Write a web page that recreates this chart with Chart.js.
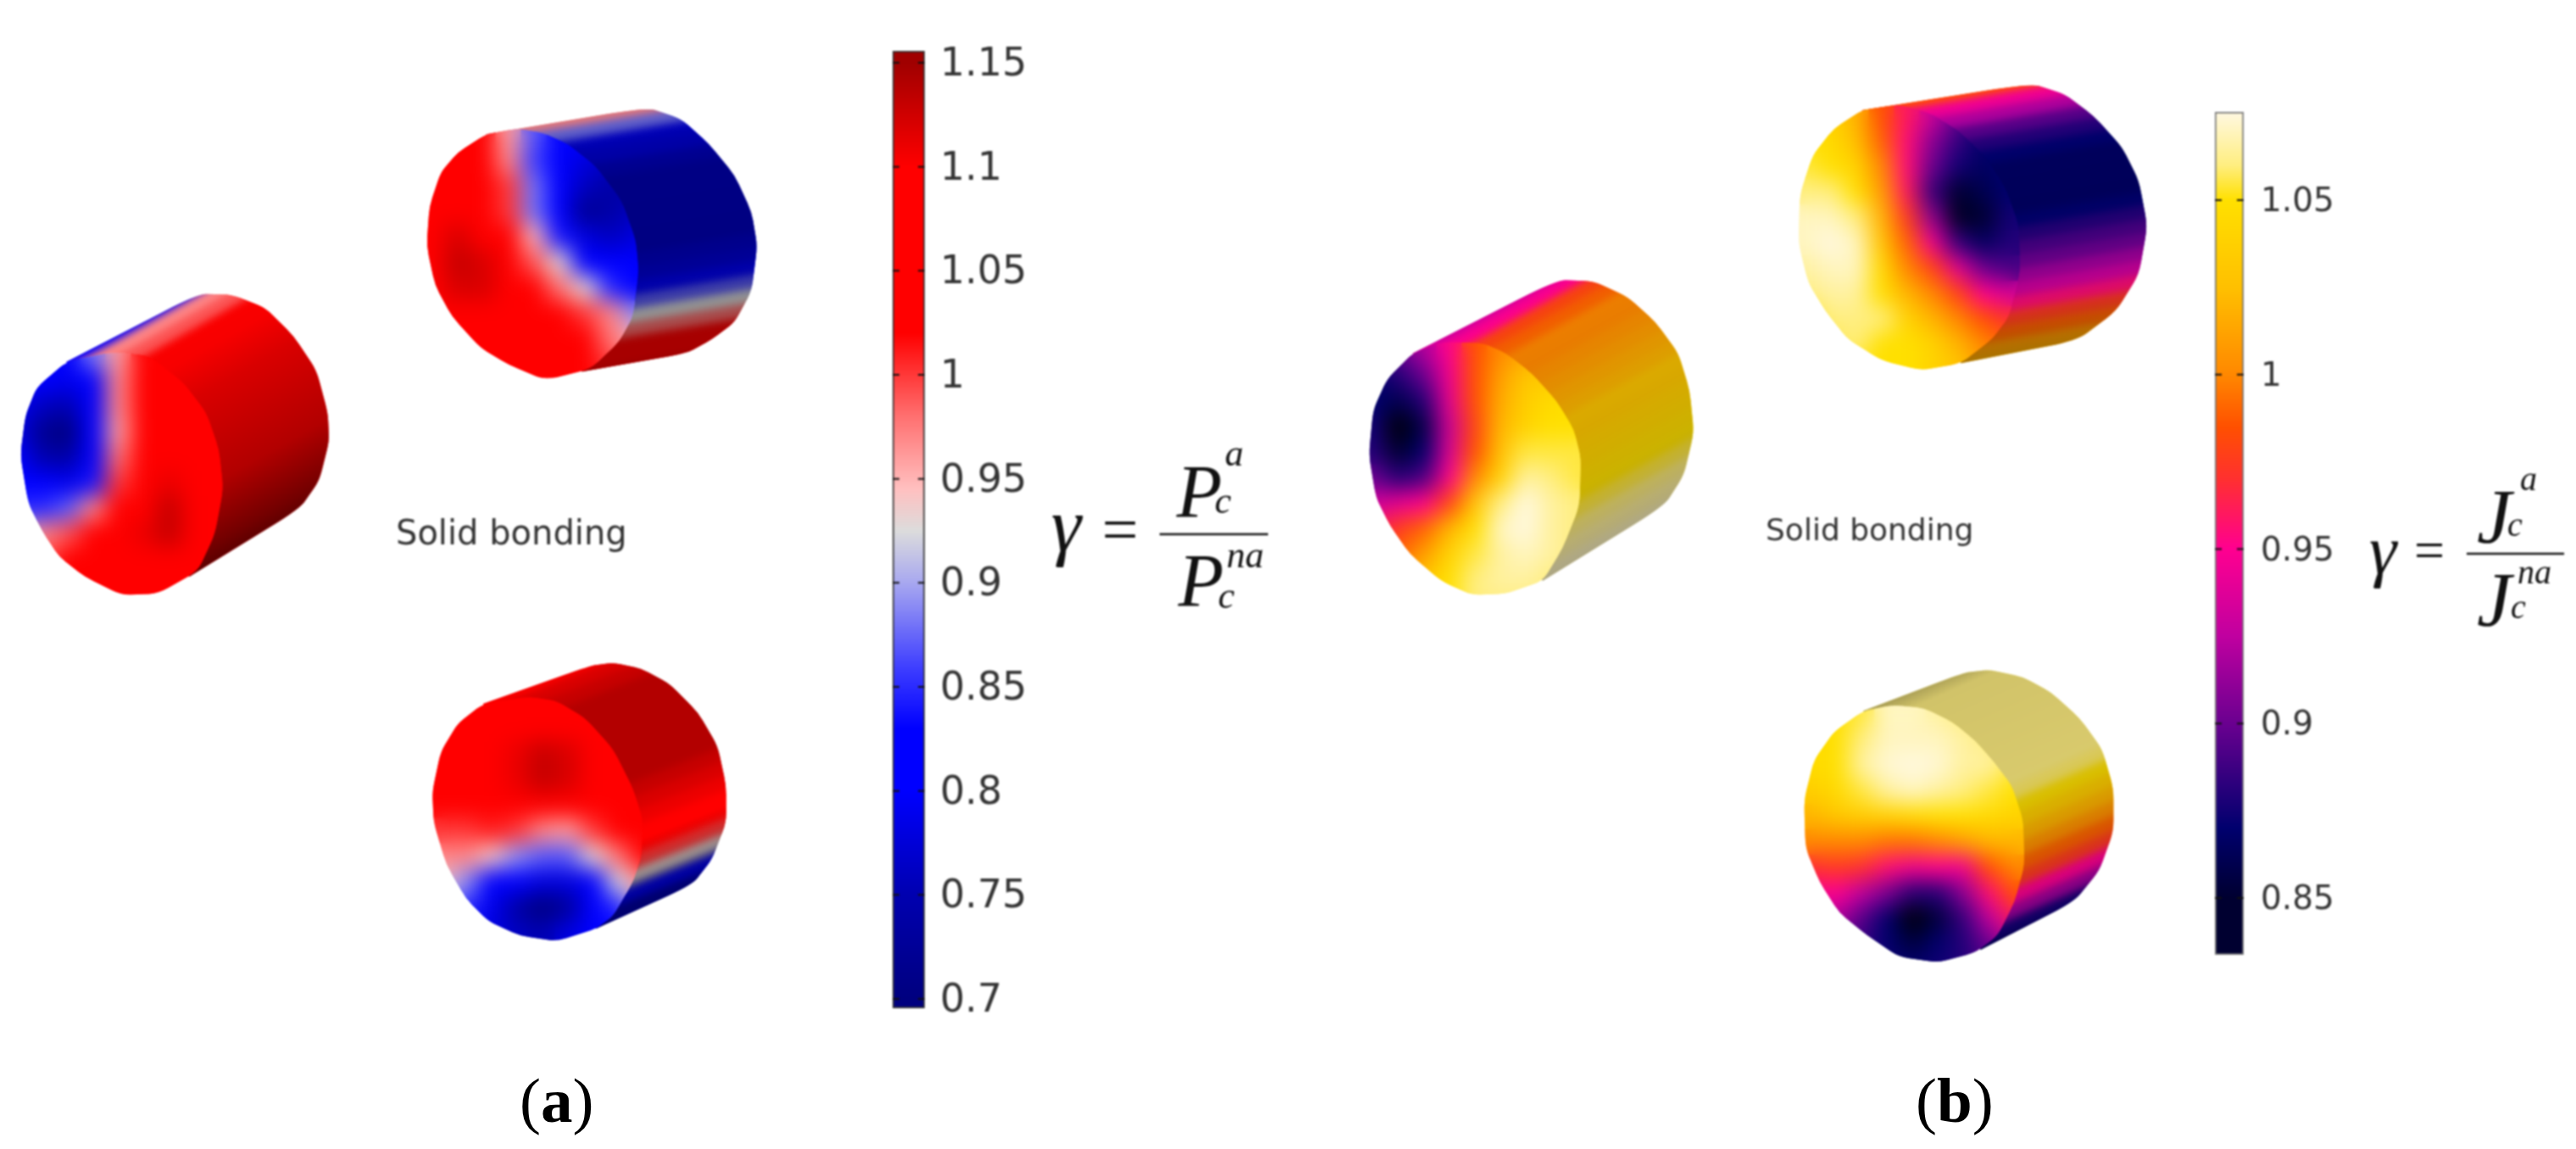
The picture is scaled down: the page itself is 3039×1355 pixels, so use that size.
<!DOCTYPE html>
<html>
<head>
<meta charset="utf-8">
<title>Solid bonding</title>
<script src="https://cdn.jsdelivr.net/npm/chart.js@4/dist/chart.umd.js"></script>
<style>
    html, body { margin: 0; padding: 0; background: #fff; }
    body { width: 3039px; height: 1355px; position: relative; overflow: hidden; }
    canvas { position: absolute; filter: blur(0.9px); }
    .tag { position: absolute; top: 1255px; font: 75px/1.149 'Liberation Serif'; color: #000; }
    .tag b { font-weight: bold; }
</style>
</head>
<body>
<canvas id="stage" width="3039" height="1355" style="left:0;top:0"></canvas>
<canvas id="barA" style="left:1051px;top:30px"></canvas>
<canvas id="barB" style="left:2611px;top:102px"></canvas>
<div class="tag" style="left:613px">(<b>a</b>)</div>
<div class="tag" style="left:2260px">(<b>b</b>)</div>
<script>
// colour scales (gamma value -> colour)
const stopsA = [0.69, 0.7, 0.75, 0.8, 0.83, 0.86, 0.9, 0.925, 0.945, 0.98, 1.02, 1.1, 1.15, 1.2];
const coloursA = ['#000070', '#00007f', '#0000b0', '#0000ff', '#0000ff', '#4040ff', '#a8a8f0', '#dcdcdc', '#ffc0c0', '#ff7070', '#ff0000', '#ff0000', '#a00000', '#700000'];
const stopsB = [0.833, 0.85, 0.87, 0.9, 0.925, 0.95, 0.97, 0.985, 1.0, 1.025, 1.05, 1.06, 1.075];
const coloursB = ['#000000', '#000030', '#00006e', '#6a0090', '#c000a0', '#ff0090', '#ff3030', '#ff5000', '#ff8800', '#ffc000', '#ffe000', '#ffee80', '#fff8e0'];

// colour bars
const ticksA = [0.7, 0.75, 0.8, 0.85, 0.9, 0.95, 1, 1.05, 1.1, 1.15];
const tickLabelsA = ['0.7', '0.75', '0.8', '0.85', '0.9', '0.95', '1', '1.05', '1.1', '1.15'];
const ticksB = [0.85, 0.9, 0.95, 1, 1.05];
const tickLabelsB = ['0.85', '0.9', '0.95', '1', '1.05'];
const rangeA = [0.6955, 1.1557];
const rangeB = [0.8337, 1.0753];

// front face samples, one row per line, top to bottom
const faceA1 = [
    [0.8, 0.8, 0.8, 0.88, 0.96, 1.02, 1.04, 1.05, 1.05],
    [0.8, 0.8, 0.79, 0.83, 0.97, 1.02, 1.05, 1.05, 1.05],
    [0.79, 0.76, 0.75, 0.82, 0.97, 1.03, 1.05, 1.05, 1.05],
    [0.78, 0.72, 0.7, 0.8, 0.96, 1.03, 1.05, 1.05, 1.05],
    [0.8, 0.75, 0.74, 0.8, 0.98, 1.04, 1.05, 1.05, 1.05],
    [0.82, 0.8, 0.79, 0.84, 1.0, 1.06, 1.11, 1.08, 1.05],
    [0.85, 0.85, 0.87, 0.97, 1.04, 1.1, 1.13, 1.09, 1.05],
    [0.92, 0.97, 0.99, 1.03, 1.06, 1.11, 1.13, 1.08, 1.05],
    [0.98, 0.99, 1.02, 1.05, 1.05, 1.08, 1.09, 1.05, 1.05],
    [1.05, 1.05, 1.05, 1.05, 1.05, 1.05, 1.05, 1.05, 1.05]
];
const faceA2 = [
    [1.05, 1.05, 1.03, 0.96, 0.87, 0.83, 0.81, 0.81, 0.81],
    [1.05, 1.05, 1.04, 0.97, 0.86, 0.81, 0.78, 0.76, 0.76],
    [1.05, 1.05, 1.05, 1.0, 0.88, 0.8, 0.76, 0.74, 0.74],
    [1.07, 1.09, 1.07, 1.0, 0.88, 0.8, 0.72, 0.74, 0.76],
    [1.09, 1.12, 1.1, 1.05, 0.95, 0.84, 0.78, 0.76, 0.78],
    [1.09, 1.13, 1.12, 1.06, 0.99, 0.93, 0.83, 0.8, 0.8],
    [1.07, 1.12, 1.12, 1.06, 1.03, 0.98, 0.93, 0.85, 0.83],
    [1.05, 1.07, 1.07, 1.05, 1.05, 1.02, 1.0, 0.97, 0.89],
    [1.05, 1.05, 1.05, 1.05, 1.05, 1.05, 1.02, 0.98, 0.95],
    [1.05, 1.05, 1.05, 1.05, 1.05, 1.05, 1.04, 1.0, 0.98]
];
const faceA3 = [
    [1.05, 1.05, 1.05, 1.05, 1.05, 1.05, 1.05, 1.05, 1.05],
    [1.05, 1.05, 1.06, 1.07, 1.07, 1.07, 1.06, 1.05, 1.05],
    [1.05, 1.06, 1.08, 1.11, 1.13, 1.12, 1.09, 1.06, 1.05],
    [1.05, 1.05, 1.07, 1.11, 1.13, 1.12, 1.08, 1.05, 1.05],
    [1.04, 1.05, 1.05, 1.05, 1.06, 1.05, 1.05, 1.05, 1.05],
    [1.0, 1.0, 1.01, 1.0, 0.97, 0.96, 1.0, 1.03, 1.04],
    [0.97, 0.97, 0.94, 0.89, 0.87, 0.87, 0.93, 0.98, 1.02],
    [0.94, 0.89, 0.83, 0.8, 0.78, 0.78, 0.81, 0.92, 0.97],
    [0.9, 0.85, 0.79, 0.74, 0.7, 0.73, 0.8, 0.85, 0.92],
    [0.84, 0.8, 0.78, 0.76, 0.75, 0.78, 0.8, 0.8, 0.8]
];
const faceB1 = [
    [0.9, 0.9, 0.92, 0.95, 0.985, 1.0, 1.01, 1.01, 1.01],
    [0.87, 0.88, 0.9, 0.945, 0.985, 1.01, 1.03, 1.03, 1.03],
    [0.87, 0.86, 0.88, 0.94, 0.985, 1.015, 1.035, 1.045, 1.05],
    [0.875, 0.835, 0.86, 0.93, 0.98, 1.02, 1.04, 1.05, 1.05],
    [0.88, 0.85, 0.87, 0.935, 0.985, 1.025, 1.055, 1.055, 1.055],
    [0.9, 0.88, 0.89, 0.95, 1.0, 1.04, 1.065, 1.06, 1.055],
    [0.93, 0.94, 0.95, 0.98, 1.03, 1.06, 1.075, 1.065, 1.06],
    [0.96, 0.975, 0.99, 1.02, 1.05, 1.07, 1.075, 1.065, 1.06],
    [0.98, 0.99, 1.01, 1.04, 1.055, 1.065, 1.07, 1.065, 1.06],
    [1.0, 1.01, 1.03, 1.05, 1.06, 1.065, 1.065, 1.06, 1.06],
    [1.02, 1.03, 1.045, 1.05, 1.06, 1.06, 1.06, 1.06, 1.06]
];
const faceB2 = [
    [1.04, 1.04, 1.02, 0.985, 0.96, 0.93, 0.9, 0.88, 0.87],
    [1.05, 1.045, 1.025, 0.99, 0.955, 0.91, 0.885, 0.87, 0.87],
    [1.055, 1.05, 1.04, 1.0, 0.955, 0.9, 0.875, 0.865, 0.87],
    [1.06, 1.06, 1.05, 1.01, 0.96, 0.885, 0.85, 0.86, 0.87],
    [1.07, 1.07, 1.06, 1.02, 0.975, 0.91, 0.845, 0.85, 0.875],
    [1.07, 1.075, 1.07, 1.03, 0.99, 0.945, 0.885, 0.865, 0.88],
    [1.065, 1.07, 1.07, 1.045, 1.0, 0.98, 0.94, 0.9, 0.89],
    [1.06, 1.065, 1.065, 1.05, 1.02, 1.0, 0.98, 0.95, 0.935],
    [1.05, 1.06, 1.06, 1.06, 1.04, 1.02, 1.0, 0.985, 0.97],
    [1.05, 1.055, 1.06, 1.05, 1.05, 1.04, 1.02, 1.0, 0.99],
    [1.05, 1.05, 1.05, 1.05, 1.05, 1.04, 1.03, 1.01, 1.0]
];
const faceB3 = [
    [1.04, 1.05, 1.055, 1.07, 1.07, 1.065, 1.06, 1.06, 1.06],
    [1.045, 1.05, 1.06, 1.07, 1.07, 1.07, 1.065, 1.06, 1.06],
    [1.045, 1.05, 1.065, 1.073, 1.075, 1.073, 1.065, 1.065, 1.055],
    [1.035, 1.045, 1.055, 1.065, 1.07, 1.065, 1.06, 1.055, 1.05],
    [1.02, 1.03, 1.035, 1.04, 1.045, 1.05, 1.05, 1.045, 1.04],
    [1.0, 1.0, 1.0, 0.995, 0.995, 1.0, 1.01, 1.02, 1.02],
    [0.97, 0.975, 0.97, 0.955, 0.945, 0.95, 0.945, 0.985, 1.0],
    [0.945, 0.95, 0.925, 0.905, 0.88, 0.88, 0.91, 0.955, 0.985],
    [0.92, 0.92, 0.895, 0.87, 0.835, 0.855, 0.885, 0.925, 0.96],
    [0.9, 0.9, 0.885, 0.87, 0.855, 0.87, 0.88, 0.9, 0.92],
    [0.88, 0.88, 0.88, 0.875, 0.87, 0.875, 0.88, 0.89, 0.9]
];

// values on the barrel, read across it from the upper edge to the lower edge
const sideA1 = [0.8, 0.97, 0.99, 1.03, 1.05, 1.05, 1.05, 1.05, 1.05, 1.05, 1.05, 1.05, 1.05, 1.05, 1.05, 1.05, 1.05, 1.05, 1.05, 1.05];
const sideA2 = [0.97, 0.88, 0.82, 0.79, 0.77, 0.76, 0.76, 0.76, 0.76, 0.76, 0.76, 0.77, 0.78, 0.82, 0.87, 0.925, 0.98, 1.05, 1.1, 1.12];
const sideA3 = [1.08, 1.12, 1.13, 1.14, 1.14, 1.14, 1.14, 1.14, 1.14, 1.14, 1.13, 1.12, 1.11, 1.09, 1.05, 1.0, 0.93, 0.82, 0.73, 0.72];
const sideB1 = [0.93, 0.95, 0.98, 0.99, 1.0, 1.0, 1.005, 1.01, 1.015, 1.02, 1.03, 1.03, 1.035, 1.04, 1.045, 1.05, 1.055, 1.06, 1.065, 1.07];
const sideB2 = [0.985, 0.945, 0.92, 0.895, 0.88, 0.87, 0.865, 0.865, 0.865, 0.865, 0.87, 0.88, 0.89, 0.9, 0.915, 0.93, 0.955, 0.975, 0.99, 1.01, 1.02];
const sideB3 = [1.06, 1.06, 1.06, 1.06, 1.06, 1.06, 1.06, 1.06, 1.06, 1.06, 1.058, 1.05, 1.035, 1.02, 1.005, 0.99, 0.975, 0.95, 0.915, 0.875, 0.86];

// outlines, in crop units (1/3 px) relative to each cylinder's origin
const outlineA1 = [[235,290],[400,255],[530,270],[650,365],[730,470],[775,600],[790,740],[760,900],[700,1030],[560,1110],[430,1115],[300,1050],[210,980],[150,890],[100,790],[72,620],[90,480],[130,380]];
const barrelA1 = [[235,290],[700,50],[820,52],[940,100],[1040,200],[1120,320],[1160,470],[1165,570],[1130,710],[1060,810],[670,1050],[430,685]];
const outlineA2 = [[250,145],[360,125],[450,140],[540,180],[640,260],[730,380],[780,520],[790,630],[770,790],[720,880],[620,975],[460,1015],[330,960],[230,900],[130,790],[70,680],[40,540],[50,400],[90,280],[150,210]];
const barrelA2 = [[250,145],[820,50],[940,90],[1040,180],[1130,290],[1190,420],[1210,540],[1190,700],[1130,810],[1050,870],[960,920],[590,985],[420,570]];
const outlineA3 = [[240,180],[400,155],[500,170],[600,230],[700,340],[770,480],[805,590],[800,720],[770,810],[700,930],[640,975],[500,1020],[370,1000],[260,950],[180,870],[110,750],[65,600],[60,490],[90,350],[150,250]];
const barrelA3 = [[240,180],[620,45],[700,35],[800,55],[900,110],[1000,210],[1070,330],[1100,470],[1100,600],[1050,730],[980,820],[640,975],[430,590]];
const outlineB1 = [[230,320],[340,280],[480,285],[560,320],[650,390],[740,490],[800,590],[825,690],[820,860],[760,1010],[690,1125],[560,1170],[440,1175],[330,1125],[220,1030],[150,930],[100,830],[75,680],[90,520],[140,410]];
const barrelB1 = [[230,320],[740,60],[870,65],[990,120],[1090,210],[1170,320],[1210,450],[1225,600],[1190,750],[1120,860],[690,1125],[440,720]];
const outlineB2 = [[290,150],[420,130],[540,165],[640,230],[730,320],[800,430],[845,560],[850,720],[810,880],[750,960],[640,1045],[500,1070],[360,1035],[240,960],[160,860],[100,760],[65,620],[70,450],[115,310],[190,215]];
const barrelB2 = [[290,150],[890,55],[1010,95],[1110,170],[1210,280],[1270,400],[1300,560],[1270,730],[1190,860],[1050,965],[640,1045],[460,600]];
const outlineB3 = [[295,205],[400,185],[510,195],[610,245],[690,310],[760,390],[820,470],[860,590],[865,750],[830,880],[770,1000],[690,1060],[560,1095],[420,1075],[310,1000],[210,920],[140,810],[90,690],[85,520],[120,380],[190,280]];
const barrelB3 = [[295,205],[650,70],[740,60],[860,85],[960,140],[1060,230],[1140,340],[1180,480],[1180,630],[1130,770],[1040,880],[710,1050],[470,650]];

const cylinders = [
    { origin: [0, 330], face: faceA1, side: sideA1, outline: outlineA1, barrel: barrelA1, grid: [60, 270], axis: [0.87, -0.49],
      shade: [[0, 0], [200, 0.03], [335, 0.15], [631, 0.3], [819, 0.55], [900, 0.68]], stops: stopsA, colours: coloursA },
    { origin: [490, 110], face: faceA2, side: sideA2, outline: outlineA2, barrel: barrelA2, grid: [60, 150], axis: [0.986, -0.164],
      shade: [[0, 0.1], [100, 0.3], [900, 0.35]], stops: stopsA, colours: coloursA },
    { origin: [490, 770], face: faceA3, side: sideA3, outline: outlineA3, barrel: barrelA3, grid: [90, 180], axis: [0.93, -0.37],
      shade: [[0, 0], [650, 0], [784, 0.4], [900, 0.25]], stops: stopsA, colours: coloursA },
    { origin: [1590, 310], face: faceB1, side: sideB1, outline: outlineB1, barrel: barrelB1, grid: [90, 310], axis: [0.875, -0.485],
      shade: [[0, 0], [200, 0.08], [500, 0.15], [700, 0.2], [850, 0.28], [930, 0.33]], stops: stopsB, colours: coloursB },
    { origin: [2100, 80], face: faceB2, side: sideB2, outline: outlineB2, barrel: barrelB2, grid: [90, 170], axis: [0.985, -0.17],
      shade: [[0, 0], [700, 0.1], [800, 0.15], [950, 0.35]], stops: stopsB, colours: coloursB },
    { origin: [2100, 770], face: faceB3, side: sideB3, outline: outlineB3, barrel: barrelB3, grid: [110, 220], axis: [0.915, -0.4],
      shade: [[0, 0.35], [60, 0.18], [480, 0.15], [940, 0.15]], stops: stopsB, colours: coloursB }
];

// text that sits on the stage
const notes = [
    { text: 'Solid bonding', x: 467, y: 642, font: '40px "DejaVu Sans"', colour: '#333' },
    { text: 'Solid bonding', x: 2083, y: 637, font: '36px "DejaVu Sans"', colour: '#333' },
    { text: 'γ', x: 1240, y: 650, font: 'italic 90px "Liberation Serif"' },
    { text: '=', x: 1300, y: 650, font: '76px "Liberation Serif"' },
    { text: 'P', x: 1388, y: 609, font: 'italic 88px "Liberation Serif"' },
    { text: 'c', x: 1433, y: 605, font: 'italic 44px "Liberation Serif"' },
    { text: 'a', x: 1445, y: 549, font: 'italic 44px "Liberation Serif"' },
    { text: 'P', x: 1390, y: 714, font: 'italic 88px "Liberation Serif"' },
    { text: 'c', x: 1437, y: 717, font: 'italic 44px "Liberation Serif"' },
    { text: 'na', x: 1447, y: 669, font: 'italic 44px "Liberation Serif"' },
    { text: 'γ', x: 2795, y: 676, font: 'italic 82px "Liberation Serif"' },
    { text: '=', x: 2848, y: 670, font: '64px "Liberation Serif"' },
    { text: 'J', x: 2922, y: 640, font: 'italic 92px "Liberation Serif"' },
    { text: 'c', x: 2958, y: 632, font: 'italic 40px "Liberation Serif"' },
    { text: 'a', x: 2973, y: 578, font: 'italic 40px "Liberation Serif"' },
    { text: 'J', x: 2922, y: 738, font: 'italic 92px "Liberation Serif"' },
    { text: 'c', x: 2962, y: 729, font: 'italic 40px "Liberation Serif"' },
    { text: 'na', x: 2970, y: 688, font: 'italic 40px "Liberation Serif"' }
];
const fractionBars = [[1368, 1496, 630], [2910, 3025, 653]];

function colourFor(v, stops, colours) {
    let i = 0;
    if (v <= stops[0]) return colours[0];
    while (i < stops.length - 1 && v > stops[i + 1]) i++;
    if (i >= stops.length - 1) return colours[colours.length - 1];
    const f = (v - stops[i]) / (stops[i + 1] - stops[i]);
    const a = parseInt(colours[i].slice(1), 16);
    const b = parseInt(colours[i + 1].slice(1), 16);
    const mix = s => Math.round(((a >> s) & 255) + (((b >> s) & 255) - ((a >> s) & 255)) * f);
    return `rgb(${mix(16)},${mix(8)},${mix(0)})`;
}

const UNIT = 3, CELL = 90, STRIPE = 48, CUT = 0.25;
const datasets = [];

cylinders.forEach(c => {
    const toPage = (x, y) => ({ x: c.origin[0] + x / UNIT, y: c.origin[1] + y / UNIT });
    const start = c.barrel[0];
    const perp = [-c.axis[1], c.axis[0]];
    c.sideSets = c.side.map((v, i) => {
        const t = i * STRIPE;
        const ends = [-100, 1000].map(a => toPage(start[0] + t * perp[0] + a * c.axis[0], start[1] + t * perp[1] + a * c.axis[1]));
        datasets.push({
            type: 'line', data: ends, borderColor: colourFor(v, c.stops, c.colours),
            borderWidth: STRIPE / UNIT + 1.5, borderCapStyle: 'butt', pointRadius: 0, fill: false, tension: 0, clip: false
        });
        return datasets.length - 1;
    });
    const cells = [], fills = [];
    c.face.forEach((row, j) => row.forEach((v, i) => {
        cells.push(toPage(c.grid[0] + i * CELL, c.grid[1] + j * CELL));
        fills.push(colourFor(v, c.stops, c.colours));
    }));
    datasets.push({
        type: 'scatter', data: cells, pointStyle: 'rect', pointRadius: (CELL / UNIT + 1) * Math.SQRT1_2,
        pointBackgroundColor: fills, pointBorderWidth: 0, clip: false
    });
    c.faceSet = datasets.length - 1;
});

const layer = document.createElement('canvas');
layer.width = 3039;
layer.height = 1355;
const off = layer.getContext('2d');

// outline with its corners eased; sharp keeps the listed vertices as hard corners
function tracePath(ctx, c, pts, sx, sy, sharp) {
    const px = pts.map(p => [sx.getPixelForValue(c.origin[0] + p[0] / UNIT), sy.getPixelForValue(c.origin[1] + p[1] / UNIT)]);
    const n = px.length;
    const along = (a, b) => [a[0] + (b[0] - a[0]) * CUT, a[1] + (b[1] - a[1]) * CUT];
    ctx.beginPath();
    px.forEach((p, i) => {
        if (sharp.includes(i)) {
            if (i) ctx.lineTo(p[0], p[1]); else ctx.moveTo(p[0], p[1]);
            return;
        }
        const a = along(p, px[(i + n - 1) % n]), b = along(p, px[(i + 1) % n]);
        if (i) ctx.lineTo(a[0], a[1]); else ctx.moveTo(a[0], a[1]);
        ctx.quadraticCurveTo(p[0], p[1], b[0], b[1]);
    });
    ctx.closePath();
}

function paintLayer(ctx, blur) {
    ctx.drawImage(layer, 0, 0);
    ctx.filter = `blur(${blur}px)`;
    ctx.drawImage(layer, 0, 0);
    ctx.filter = 'none';
}

const cylinderPlugin = {
    id: 'cylinders',
    beforeDatasetsDraw(chart) {
        const ctx = chart.ctx, area = chart.chartArea, sx = chart.scales.x, sy = chart.scales.y;
        cylinders.forEach(c => {
            off.clearRect(0, 0, layer.width, layer.height);
            c.sideSets.forEach(i => chart.getDatasetMeta(i).dataset.draw(off, area));
            ctx.save();
            const last = c.barrel.length - 1;
            tracePath(ctx, c, c.barrel, sx, sy, [0, last - 1, last]);
            ctx.clip();
            paintLayer(ctx, 5);
            const perp = [-c.axis[1], c.axis[0]], s = c.barrel[0];
            const T = c.shade[c.shade.length - 1][0];
            const g = ctx.createLinearGradient(
                sx.getPixelForValue(c.origin[0] + s[0] / UNIT), sy.getPixelForValue(c.origin[1] + s[1] / UNIT),
                sx.getPixelForValue(c.origin[0] + (s[0] + T * perp[0]) / UNIT), sy.getPixelForValue(c.origin[1] + (s[1] + T * perp[1]) / UNIT));
            c.shade.forEach(d => g.addColorStop(d[0] / T, `rgba(0,0,0,${d[1]})`));
            ctx.fillStyle = g;
            ctx.fillRect(0, 0, layer.width, layer.height);
            ctx.restore();

            off.clearRect(0, 0, layer.width, layer.height);
            chart.getDatasetMeta(c.faceSet).data.forEach(p => p.draw(off, area));
            ctx.save();
            tracePath(ctx, c, c.outline, sx, sy, []);
            ctx.clip();
            paintLayer(ctx, 13);
            ctx.restore();
        });
        return false;
    },
    afterDraw(chart) {
        const ctx = chart.ctx;
        ctx.save();
        ctx.textBaseline = 'alphabetic';
        notes.forEach(n => {
            ctx.font = n.font;
            ctx.fillStyle = n.colour || '#111';
            ctx.fillText(n.text, n.x, n.y);
        });
        ctx.strokeStyle = '#111';
        ctx.lineWidth = 2.5;
        fractionBars.forEach(b => {
            ctx.beginPath();
            ctx.moveTo(b[0], b[2]);
            ctx.lineTo(b[1], b[2]);
            ctx.stroke();
        });
        ctx.restore();
    }
};

new Chart(document.getElementById('stage'), {
    type: 'scatter',
    data: { datasets },
    plugins: [cylinderPlugin],
    options: {
        responsive: false,
        animation: false,
        events: [],
        layout: { padding: 0, autoPadding: false },
        plugins: { legend: { display: false }, tooltip: { enabled: false } },
        scales: {
            x: { type: 'linear', min: 0, max: 3039, display: false },
            y: { type: 'linear', min: 0, max: 1355, reverse: true, display: false }
        }
    }
});

const innerTicks = {
    id: 'innerTicks',
    afterDatasetsDraw(chart) {
        const { ctx, chartArea: a, scales: { y } } = chart;
        ctx.save();
        ctx.strokeStyle = '#111';
        ctx.lineWidth = 2;
        y.ticks.forEach(t => {
            const py = y.getPixelForValue(t.value);
            ctx.beginPath();
            ctx.moveTo(a.left, py);
            ctx.lineTo(a.left + 8, py);
            ctx.moveTo(a.right - 8, py);
            ctx.lineTo(a.right, py);
            ctx.stroke();
        });
        ctx.restore();
    }
};

function colourBar(id, w, h, range, ticks, labels, stops, colours, axisWidth, fontSize, edge, gap) {
    const el = document.getElementById(id);
    el.width = w;
    el.height = h;
    new Chart(el, {
        type: 'bar',
        data: {
            labels: ['γ'],
            datasets: [{
                data: [range],
                barPercentage: 1,
                categoryPercentage: 1,
                borderWidth: 2,
                borderColor: edge,
                borderSkipped: false,
                backgroundColor(ctx) {
                    const { chartArea, scales } = ctx.chart;
                    if (!chartArea) return '#888';
                    const top = scales.y.getPixelForValue(range[1]), bot = scales.y.getPixelForValue(range[0]);
                    const g = ctx.chart.ctx.createLinearGradient(0, bot, 0, top);
                    stops.forEach((s, i) => {
                        const f = (s - range[0]) / (range[1] - range[0]);
                        if (f >= 0 && f <= 1) g.addColorStop(f, colours[i]);
                    });
                    return g;
                }
            }]
        },
        plugins: [innerTicks],
        options: {
            responsive: false,
            animation: false,
            events: [],
            layout: { padding: { left: 2, right: 0, top: 30, bottom: 30 } },
            plugins: { legend: { display: false }, tooltip: { enabled: false } },
            scales: {
                x: { display: false },
                y: {
                    position: 'right',
                    min: range[0],
                    max: range[1],
                    border: { display: false },
                    grid: { display: false, drawTicks: false },
                    afterBuildTicks(s) { s.ticks = ticks.map(v => ({ value: v })); },
                    afterFit(s) { s.width = axisWidth; s.paddingTop = 0; s.paddingBottom = 0; },
                    ticks: {
                        autoSkip: false,
                        padding: gap,
                        labelOffset: 3,
                        color: '#333',
                        font: { family: 'DejaVu Sans', size: fontSize },
                        callback: (v, i) => labels[i]
                    }
                }
            }
        }
    });
}

colourBar('barA', 180, 1189, rangeA, ticksA, tickLabelsA, stopsA, coloursA, 140, 46, '#333', 18);
colourBar('barB', 156, 1054, rangeB, ticksB, tickLabelsB, stopsB, coloursB, 120, 39, '#777', 20);
</script>
</body>
</html>
